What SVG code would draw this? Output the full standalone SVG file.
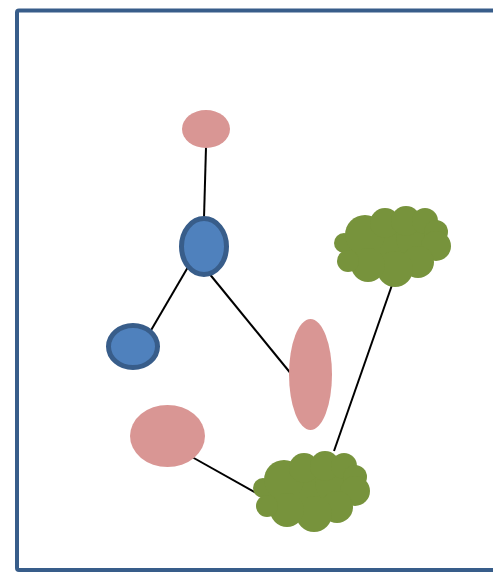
<svg xmlns="http://www.w3.org/2000/svg" width="493" height="572" viewBox="0 0 493 572">
<style>
.pink{fill:#d99694}
.blue{fill:#4f81bd;stroke:#385d8a;stroke-width:5}
.green{fill:#77933c}
.edge{stroke:#000;stroke-width:2;fill:none}
</style>
<defs>
<g id="cloud" class="green">
<ellipse cx="392" cy="246" rx="46" ry="28"/>
<circle cx="416" cy="238" r="20"/>
<circle cx="344" cy="243" r="10"/>
<circle cx="365" cy="235" r="20"/>
<circle cx="385" cy="223" r="15"/>
<circle cx="406" cy="221" r="15"/>
<circle cx="425" cy="221" r="13"/>
<circle cx="436" cy="232" r="12"/>
<circle cx="436" cy="246" r="15"/>
<circle cx="418" cy="262" r="16"/>
<circle cx="395" cy="269" r="18"/>
<circle cx="368" cy="265" r="17"/>
<circle cx="348" cy="261" r="11"/>
</g>
</defs>
<rect width="493" height="572" fill="#fff"/>
<rect x="17" y="10.5" width="500" height="559.5" rx="2" fill="none" stroke="#385d8a" stroke-width="4"/>
<g id="connectors">
<line class="edge" x1="206" y1="147" x2="204" y2="218"/>
<line class="edge" x1="188" y1="267" x2="150" y2="332"/>
<line class="edge" x1="208" y1="272" x2="292" y2="375"/>
<line class="edge" x1="392" y1="285" x2="334" y2="451"/>
<line class="edge" x1="192" y1="457" x2="256" y2="493"/>
</g>
<g id="node-pink-top"><ellipse class="pink" cx="206" cy="129" rx="24" ry="19"/></g>
<g id="node-blue-mid"><ellipse class="blue" cx="204" cy="246.5" rx="22.5" ry="28"/></g>
<g id="node-blue-left"><ellipse class="blue" cx="133" cy="346.5" rx="24.5" ry="21"/></g>
<g id="node-pink-tall"><ellipse class="pink" cx="310.5" cy="374.5" rx="21.5" ry="55.5"/></g>
<g id="node-pink-low"><ellipse class="pink" cx="167.5" cy="436" rx="37.5" ry="31"/></g>
<g id="node-cloud-top"><use href="#cloud"/></g>
<g id="node-cloud-bottom"><use href="#cloud" transform="translate(-81,245)"/></g>
</svg>
